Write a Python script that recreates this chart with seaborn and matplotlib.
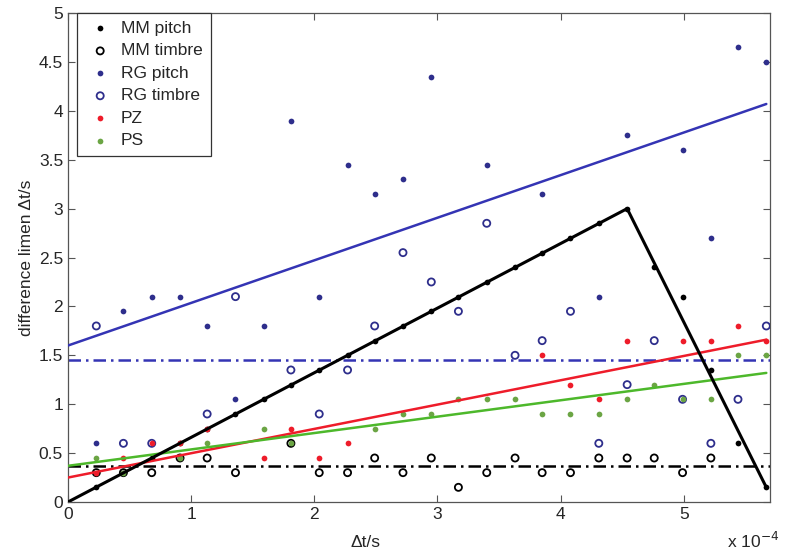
"""Difference limen versus interaural time offset, MATLAB-style scatter with fits."""

import numpy as np
import matplotlib
matplotlib.use("Agg")
import matplotlib.pyplot as plt
import matplotlib.ticker as mtick
import seaborn as sns

sns.set_theme(style="ticks")
plt.rcParams['font.family'] = ['Liberation Sans', 'DejaVu Sans']
plt.rcParams['xtick.direction'] = 'in'
plt.rcParams['ytick.direction'] = 'in'

nan = np.nan

# time offsets, in units of 1e-4 s
dt = [0.23, 0.45, 0.68, 0.91, 1.13, 1.36, 1.59, 1.81, 2.04, 2.27, 2.49, 2.72, 2.95,
      3.17, 3.40, 3.63, 3.85, 4.08, 4.31, 4.54, 4.76, 4.99, 5.22, 5.44, 5.67]

mm_pitch = [0.15, 0.3, 0.45, 0.6, 0.75, 0.9, 1.05, 1.2, 1.35, 1.5, 1.65, 1.8, 1.95,
            2.1, 2.25, 2.4, 2.55, 2.7, 2.85, 3.0, 2.4, 2.1, 1.35, 0.6, 0.15]
mm_timbre = [0.3, 0.3, 0.3, 0.45, 0.45, 0.3, nan, 0.6, 0.3, 0.3, 0.45, 0.3, 0.45,
             0.15, 0.3, 0.45, 0.3, 0.3, 0.45, 0.45, 0.45, 0.3, 0.45, nan, nan]
rg_pitch = [0.6, 1.95, 2.1, 2.1, 1.8, 1.05, 1.8, 3.9, 2.1, 3.45, 3.15, 3.3, 4.35,
            nan, 3.45, nan, 3.15, nan, 2.1, 3.75, nan, 3.6, 2.7, 4.65, 4.5]
rg_timbre = [1.8, 0.6, 0.6, nan, 0.9, 2.1, nan, 1.35, 0.9, 1.35, 1.8, 2.55, 2.25,
             1.95, 2.85, 1.5, 1.65, 1.95, 0.6, 1.2, 1.65, 1.05, 0.6, 1.05, 1.8]
pz = [0.3, 0.45, 0.6, 0.6, 0.75, nan, 0.45, 0.75, 0.45, 0.6, nan, nan, nan,
      nan, nan, nan, 1.5, 1.2, 1.05, 1.65, nan, 1.65, 1.65, 1.8, 1.65]
ps = [0.45, 0.3, nan, 0.45, 0.6, nan, 0.75, 0.6, nan, nan, 0.75, 0.9, 0.9,
      1.05, 1.05, 1.05, 0.9, 0.9, 0.9, 1.05, 1.2, 1.05, 1.05, 1.5, 1.5]

# fitted lines (end points)
mm_fit_x = [0.0, 4.54, 5.67]
mm_fit_y = [0.0, 3.0, 0.15]
rg_fit_x = [0.0, 5.67]
rg_fit_y = [1.6, 4.07]
pz_fit_x = [0.0, 5.67]
pz_fit_y = [0.25, 1.66]
ps_fit_x = [0.0, 5.67]
ps_fit_y = [0.37, 1.32]

# mean levels for the timbre tasks
mm_timbre_mean = 0.37
rg_timbre_mean = 1.45

black = '#000000'
blue = '#2E2E8C'
blue_line = '#3434B4'
red = '#EE1C2A'
green_dot = '#6BA544'
green_line = '#4DB82B'

fig = plt.figure(figsize=(7.85, 5.55), dpi=100)
ax = fig.add_axes([0.0866, 0.0955, 0.8943, 0.881])

dot = dict(marker='o', s=17, linewidth=0, ax=ax, zorder=3)
ring = dict(marker='o', s=26, linewidth=1.3, facecolor='none', ax=ax, zorder=3)

sns.scatterplot(x=dt, y=mm_pitch, color=black, label='MM pitch', **dot)
sns.scatterplot(x=dt, y=mm_timbre, edgecolor=black, label='MM timbre', **ring)
sns.scatterplot(x=dt, y=rg_pitch, color=blue, label='RG pitch', **dot)
sns.scatterplot(x=dt, y=rg_timbre, edgecolor=blue, label='RG timbre', **ring)
sns.scatterplot(x=dt, y=pz, color=red, label='PZ', **dot)
sns.scatterplot(x=dt, y=ps, color=green_dot, label='PS', **dot)

sns.lineplot(x=rg_fit_x, y=rg_fit_y, color=blue_line, lw=1.8, ax=ax, zorder=4)
sns.lineplot(x=pz_fit_x, y=pz_fit_y, color=red, lw=1.8, ax=ax, zorder=4)
sns.lineplot(x=ps_fit_x, y=ps_fit_y, color=green_line, lw=1.8, ax=ax, zorder=4)
sns.lineplot(x=mm_fit_x, y=mm_fit_y, color=black, lw=2.2, ax=ax, zorder=4)

ax.axhline(rg_timbre_mean, color=blue_line, lw=1.8, ls=(0, (5, 2, 1, 2)), zorder=2)
ax.axhline(mm_timbre_mean, color=black, lw=1.8, ls=(0, (5, 2, 1, 2)), zorder=2)

ax.set_xlim(0, 5.7)
ax.set_ylim(0, 5)
ax.xaxis.set_major_locator(mtick.MultipleLocator(1))
ax.yaxis.set_major_locator(mtick.MultipleLocator(0.5))
ax.yaxis.set_major_formatter(mtick.FormatStrFormatter('%g'))
ax.xaxis.set_major_formatter(mtick.FormatStrFormatter('%g'))
ax.tick_params(axis='both', labelsize=12.5, length=5, width=0.8, color='#555555',
               top=True, right=True)
for sp in ax.spines.values():
    sp.set_color('#555555')
    sp.set_linewidth(0.9)

ax.set_xlabel('Δt/s', fontsize=12.5)
ax.set_ylabel('difference limen Δt/s', fontsize=12.5)
ax.xaxis.set_label_coords(0.424, -0.068)
ax.yaxis.set_label_coords(-0.048, 0.5)

fig.text(0.926, 0.012, r'x 10$^{-4}$', fontsize=12.5)

leg = ax.legend(loc='upper left', bbox_to_anchor=(0.0125, 1.0), borderaxespad=0,
                fancybox=False, framealpha=1, edgecolor='#333333', fontsize=12.5,
                handlelength=1.8, handletextpad=0.3, labelspacing=0.42,
                borderpad=0.45)
leg.get_frame().set_linewidth(0.9)
leg.set_zorder(10)

fig.savefig('out.png', dpi=100)
